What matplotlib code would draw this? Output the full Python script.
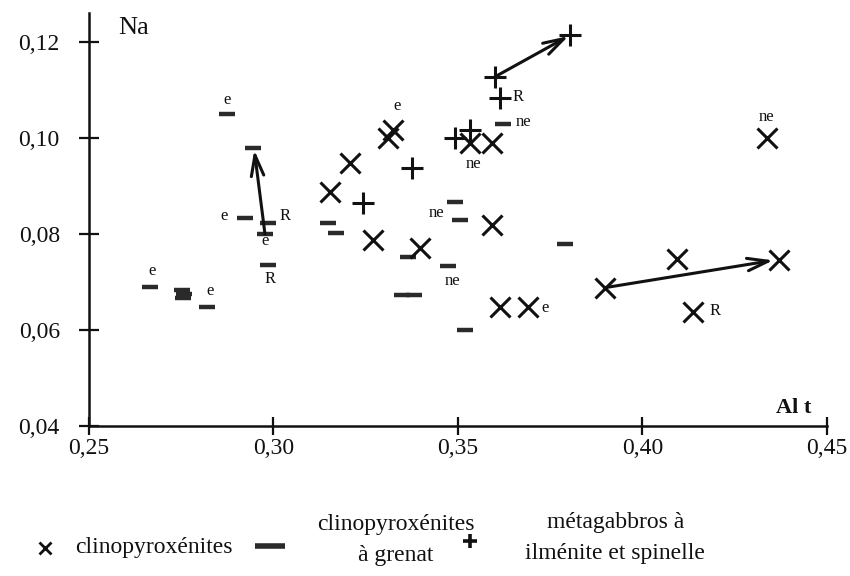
import matplotlib
matplotlib.use("Agg")
import matplotlib.pyplot as plt
from matplotlib.lines import Line2D

plt.rcParams['font.family'] = ['Liberation Serif', 'DejaVu Serif']

# clinopyroxénites (x)
x_cpx = [0.3153, 0.3207, 0.3310, 0.3324, 0.3270, 0.3397, 0.3533, 0.3592,
         0.3592, 0.3614, 0.3690, 0.3898, 0.4093, 0.4370, 0.4137, 0.4337]
y_cpx = [0.0888, 0.0948, 0.1000, 0.1017, 0.0788, 0.0771, 0.0990, 0.0990,
         0.0819, 0.0648, 0.0648, 0.0688, 0.0748, 0.0746, 0.0638, 0.1000]

# clinopyroxénites à grenat (bars)
x_grt = [0.2874, 0.2944, 0.2923, 0.2985, 0.2977, 0.2985, 0.2665, 0.2752,
         0.2757, 0.2755, 0.2820, 0.3148, 0.3169, 0.3364, 0.3348, 0.3381,
         0.3492, 0.3505, 0.3473, 0.3519, 0.3790, 0.3622]
y_grt = [0.1050, 0.0979, 0.0833, 0.0823, 0.0800, 0.0735, 0.0690, 0.0683,
         0.0675, 0.0667, 0.0648, 0.0823, 0.0802, 0.0752, 0.0673, 0.0673,
         0.0867, 0.0829, 0.0733, 0.0600, 0.0779, 0.1029]

# métagabbros à ilménite et spinelle (+)
x_gab = [0.3375, 0.3243, 0.3492, 0.3533, 0.3600, 0.3804, 0.3614]
y_gab = [0.0938, 0.0865, 0.1000, 0.1017, 0.1127, 0.1215, 0.1083]

# small annotations
lab_text = ["e", "e", "R", "e", "R", "e", "e", "e", "ne", "ne", "e", "R", "ne", "ne", "R", "ne"]
lab_x = [0.2874, 0.2866, 0.3031, 0.2977, 0.2990, 0.2671, 0.2828, 0.3335,
         0.3443, 0.3484, 0.3736, 0.4196, 0.4337, 0.3541, 0.3663, 0.3679]
lab_y = [0.1079, 0.0838, 0.0838, 0.0785, 0.0706, 0.0723, 0.0681, 0.1067,
         0.0844, 0.0702, 0.0646, 0.0640, 0.1044, 0.0946, 0.1085, 0.1033]

# arrows (start -> end)
arr_x0 = [0.2977, 0.3600, 0.3898]
arr_y0 = [0.0800, 0.1127, 0.0688]
arr_x1 = [0.2948, 0.3800, 0.4355]
arr_y1 = [0.0975, 0.1212, 0.0745]

xticks = [0.25, 0.30, 0.35, 0.40, 0.45]
yticks = [0.04, 0.06, 0.08, 0.10, 0.12]

fig = plt.figure(figsize=(8.5, 5.76), dpi=100)
ax = fig.add_axes([0.1047, 0.2604, 0.868, 0.717])

ink = "#111111"
ax.plot(x_grt, y_grt, ls="none", marker="_", ms=12, mew=3.2, color="#2a2a2a", zorder=3)
ax.plot(x_cpx, y_cpx, ls="none", marker="x", ms=14, mew=2.2, color=ink, zorder=4)
ax.plot(x_gab, y_gab, ls="none", marker="+", ms=16, mew=2.2, color=ink, zorder=4)

for t, lx, ly in zip(lab_text, lab_x, lab_y):
    ax.text(lx, ly, t, fontsize=12, ha="center", va="center", color=ink)

for x0, y0, x1, y1 in zip(arr_x0, arr_y0, arr_x1, arr_y1):
    ax.annotate("", xy=(x1, y1), xytext=(x0, y0),
                arrowprops=dict(arrowstyle="->,head_length=1.5,head_width=0.45",
                                lw=2.2, color=ink, shrinkA=0, shrinkB=0))

ax.set_xlim(0.25, 0.45)
ax.set_ylim(0.04, 0.126)
ax.set_xticks(xticks)
ax.set_yticks(yticks)
ax.set_xticklabels([f"{v:.2f}".replace(".", ",") for v in xticks])
ax.set_yticklabels([f"{v:.2f}".replace(".", ",") for v in yticks])
for s in ["top", "right"]:
    ax.spines[s].set_visible(False)
for s in ["left", "bottom"]:
    ax.spines[s].set_linewidth(1.8)
    ax.spines[s].set_color(ink)
ax.tick_params(axis="y", direction="inout", length=14, width=1.6, pad=14,
               labelsize=17, colors=ink)
ax.tick_params(axis="x", direction="inout", length=13, width=1.6, pad=2,
               labelsize=17, colors=ink)

fig.text(0.139, 0.952, "Na", fontsize=19, va="center", ha="left", color=ink)
fig.text(0.955, 0.292, "Al t", fontsize=16, fontweight="bold", va="center",
         ha="right", color=ink)

# legend
fig.add_artist(Line2D([0.053], [0.049], transform=fig.transFigure, marker="x",
                      ms=8, mew=2, color=ink))
fig.text(0.088, 0.049, "clinopyroxénites", fontsize=17, va="center", ha="left", color=ink)
fig.add_artist(Line2D([0.318], [0.052], transform=fig.transFigure, marker="_",
                      ms=22, mew=4, color="#2a2a2a"))
fig.text(0.466, 0.063, "clinopyroxénites\nà grenat", fontsize=17, va="center",
         ha="center", linespacing=1.65, color=ink)
fig.add_artist(Line2D([0.553], [0.061], transform=fig.transFigure, marker="+",
                      ms=10, mew=2.6, color=ink))
fig.text(0.724, 0.066, "métagabbros à\nilménite et spinelle", fontsize=17,
         va="center", ha="center", linespacing=1.6, color=ink)

fig.savefig("out.png", dpi=100)
